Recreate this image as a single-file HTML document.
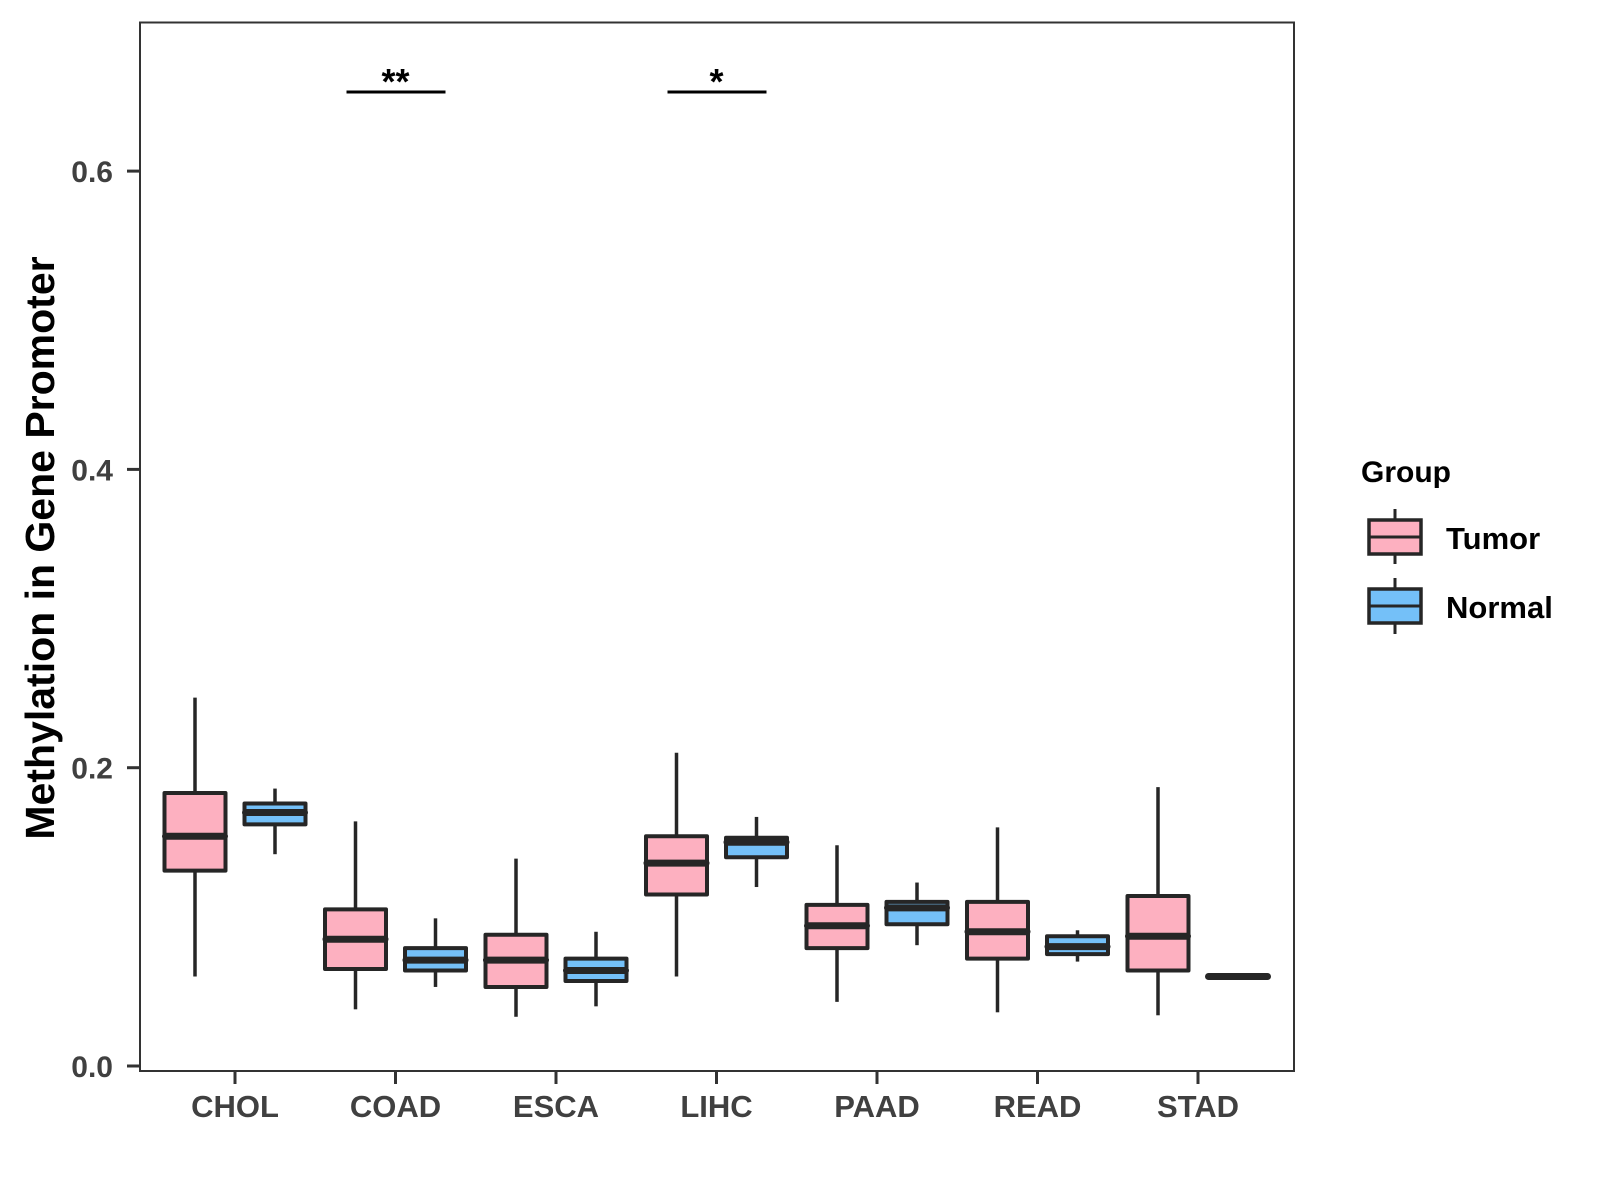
<!DOCTYPE html>
<html><head><meta charset="utf-8"><style>
html,body{margin:0;padding:0;background:#fff;}
svg{display:block;font-family:"Liberation Sans",Arial,sans-serif;}
</style></head><body>
<svg id="chart" width="1600" height="1200" viewBox="0 0 1600 1200" xmlns="http://www.w3.org/2000/svg">
<rect x="0" y="0" width="1600" height="1200" fill="#fff"/>
<g id="plot"></g>
<rect x="140" y="22.5" width="1154" height="1048.5" fill="none" stroke="#333" stroke-width="2"/>
<text transform="translate(54,548) rotate(-90)" text-anchor="middle" font-size="41" font-weight="bold" fill="#000">Methylation in Gene Promoter</text>
<g>
<text x="1361" y="482" font-size="30" font-weight="bold" fill="#000">Group</text>
<g>
<line x1="1395" y1="509" x2="1395" y2="564" stroke="#262626" stroke-width="3"/>
<rect x="1369" y="520" width="52" height="34" fill="#FDB0C0" stroke="#262626" stroke-width="3.5"/>
<line x1="1369" y1="537" x2="1421" y2="537" stroke="#262626" stroke-width="3"/>
<text x="1446" y="549" font-size="31" font-weight="bold" fill="#000">Tumor</text>
</g>
<g>
<line x1="1395" y1="578" x2="1395" y2="634" stroke="#262626" stroke-width="3"/>
<rect x="1369" y="589" width="52" height="34" fill="#74C0F8" stroke="#262626" stroke-width="3.5"/>
<line x1="1369" y1="606" x2="1421" y2="606" stroke="#262626" stroke-width="3"/>
<text x="1446" y="618" font-size="31" font-weight="bold" fill="#000">Normal</text>
</g>
</g>
</svg>
<script>
const categories = ["CHOL","COAD","ESCA","LIHC","PAAD","READ","STAD"];
// [lowWhisker, Q1, median, Q3, highWhisker]
const tumorStats = [
 [0.060,0.131,0.154,0.183,0.247],
 [0.038,0.065,0.085,0.105,0.164],
 [0.033,0.053,0.071,0.088,0.139],
 [0.060,0.115,0.136,0.154,0.210],
 [0.043,0.079,0.094,0.108,0.148],
 [0.036,0.072,0.090,0.110,0.160],
 [0.034,0.064,0.087,0.114,0.187]
];
const normalStats = [
 [0.142,0.162,0.170,0.176,0.186],
 [0.053,0.064,0.071,0.079,0.099],
 [0.040,0.057,0.064,0.072,0.090],
 [0.120,0.140,0.150,0.153,0.167],
 [0.081,0.095,0.106,0.110,0.123],
 [0.070,0.075,0.080,0.087,0.091],
 [0.060,0.060,0.060,0.060,0.060]
];
const yTicks = [0.0,0.2,0.4,0.6];
const yTickLabels = ["0.0","0.2","0.4","0.6"];
const sigCategories = ["COAD","LIHC"];
const sigLabels = ["**","*"];
const sigValue = 0.653;

const NS="http://www.w3.org/2000/svg";
const plot=document.getElementById('plot');
const svg=document.getElementById('chart');
function yScale(v){return 1066 - v*1491.5;}
function xScale(i){return 235 + i*160.5;}
function mk(tag,attrs,parent){const e=document.createElementNS(NS,tag);for(const k in attrs)e.setAttribute(k,attrs[k]);(parent||plot).appendChild(e);return e;}
const dark="#262626";
const bw=61;
function drawBox(s,cx,fill,name){
  const g=mk('g',{});
  
  
  mk('line',{x1:cx,x2:cx,y1:yScale(s[4]),y2:yScale(s[3]),stroke:dark,'stroke-width':3.5},g);
  mk('line',{x1:cx,x2:cx,y1:yScale(s[1]),y2:yScale(s[0]),stroke:dark,'stroke-width':3.5},g);
  const h=Math.max(yScale(s[1])-yScale(s[3]),0.01);
  mk('rect',{x:cx-bw/2,y:yScale(s[3]),width:bw,height:h,fill:fill,stroke:dark,'stroke-width':4,'stroke-linejoin':'round'},g);
  mk('line',{x1:cx-bw/2+1,x2:cx+bw/2-1,y1:yScale(s[2]),y2:yScale(s[2]),stroke:dark,'stroke-width':7,'stroke-linecap':'round'},g);
}
categories.forEach((c,i)=>{
  drawBox(tumorStats[i],xScale(i)-40,"#FDB0C0","box-tumor-"+c.toLowerCase());
  drawBox(normalStats[i],xScale(i)+40,"#74C0F8","box-normal-"+c.toLowerCase());
  const t=mk('line',{x1:xScale(i),x2:xScale(i),y1:1071,y2:1084,stroke:'#333','stroke-width':3},svg);
  
  
  const lab=mk('text',{x:xScale(i),y:1117,'text-anchor':'middle','font-size':31,'font-weight':'bold',fill:'#404040'},svg);
  lab.textContent=c;
  
  
});
yTicks.forEach((v,i)=>{
  const t=mk('line',{x1:127,x2:140,y1:yScale(v),y2:yScale(v),stroke:'#333','stroke-width':3},svg);
  
  
  const lab=mk('text',{x:113,y:yScale(v)+11,'text-anchor':'end','font-size':30,'font-weight':'bold',fill:'#404040'},svg);
  lab.textContent=yTickLabels[i];
  
  
});
sigCategories.forEach((c,k)=>{
  const i=categories.indexOf(c);
  const ln=mk('line',{x1:xScale(i)-49,x2:xScale(i)+50,y1:yScale(sigValue),y2:yScale(sigValue),stroke:'#000','stroke-width':3});
  
  
  const tx=mk('text',{x:xScale(i),y:yScale(sigValue)+2,'text-anchor':'middle','font-size':36,'font-weight':'bold',fill:'#000'});
  tx.textContent=sigLabels[k];
  
  
});
</script>
</body></html>
